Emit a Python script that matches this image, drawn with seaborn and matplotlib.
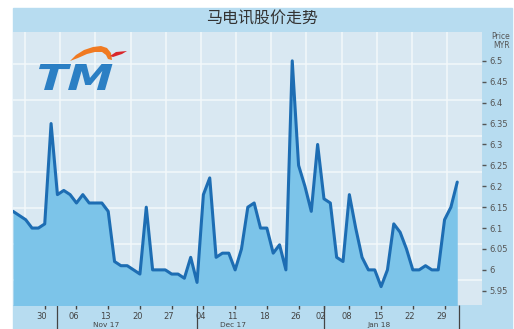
import matplotlib
matplotlib.use("Agg")
import matplotlib.pyplot as plt
import seaborn as sns
import numpy as np
import pandas as pd
from matplotlib.patches import Rectangle, Polygon, PathPatch
from matplotlib.textpath import TextPath
from matplotlib.font_manager import FontProperties
from matplotlib.transforms import Affine2D, ScaledTranslation

# trading days shown (market closed 25 Dec and 1 Jan)
dates = pd.bdate_range("2017-10-23", "2018-01-31")
dates = dates.drop(pd.to_datetime(["2017-12-25", "2018-01-01"]))

prices = [6.14, 6.13, 6.12, 6.10, 6.10, 6.11, 6.35, 6.18, 6.19, 6.18,
          6.16, 6.18, 6.16, 6.16, 6.16, 6.14, 6.02, 6.01, 6.01, 6.00,
          5.99, 6.15, 6.00, 6.00, 6.00, 5.99, 5.99, 5.98, 6.03, 5.97,
          6.18, 6.22, 6.03, 6.04, 6.04, 6.00, 6.05, 6.15, 6.16, 6.10,
          6.10, 6.04, 6.06, 6.00, 6.50, 6.25, 6.20, 6.14, 6.30, 6.17,
          6.16, 6.03, 6.02, 6.18, 6.10, 6.03, 6.00, 6.00, 5.96, 6.00,
          6.11, 6.09, 6.05, 6.00, 6.00, 6.01, 6.00, 6.00, 6.12, 6.15,
          6.21]

y_ticks = [5.95, 6.0, 6.05, 6.1, 6.15, 6.2, 6.25, 6.3, 6.35, 6.4, 6.45, 6.5]
title = "马电讯股价走势"

band_col = "#b7dcf0"
panel_col = "#d9e8f2"
fill_col = "#7cc4e9"
line_col = "#1d6db3"
text_col = "#555555"

W, H = 514, 329

df = pd.DataFrame({"date": dates, "price": prices})
df["i"] = np.arange(len(df))

sns.set_style("white")
plt.rcParams["font.family"] = ["DejaVu Sans"]

fig = plt.figure(figsize=(W / 100, H / 100), dpi=100)
fig.patch.set_facecolor("white")

# light blue frame behind everything
fig.patches.append(Rectangle((13 / W, 0), (512 - 13) / W, (H - 8) / H,
                             transform=fig.transFigure, color=band_col, zorder=-5))

ax = fig.add_axes([13 / W, 24 / H, 469 / W, 273 / H])
ax.set_zorder(1)
ax.set_facecolor(panel_col)

# decorative white grid
for gx in 0.0256 + 0.075 * np.arange(13):
    ax.plot([gx, gx], [0, 1], transform=ax.transAxes, color="#f3f8fb", lw=1.1, zorder=1)
for gy in 0.0916 + 0.132 * np.arange(7):
    ax.plot([0, 1], [gy, gy], transform=ax.transAxes, color="#f3f8fb", lw=1.1, zorder=1)

ax.fill_between(df["i"], 5.9, df["price"], color=fill_col, lw=0, zorder=2)
sns.lineplot(data=df, x="i", y="price", ax=ax, color=line_col, lw=2.2, zorder=3)

ax.set_xlim(0, 73.9)
ax.set_ylim(5.916, 6.569)
ax.set_xlabel("")
ax.set_ylabel("")
for s in ax.spines.values():
    s.set_visible(False)

# right hand price axis
ax.yaxis.tick_right()
ax.set_yticks(y_ticks)
ax.set_yticklabels(["%g" % v for v in y_ticks])
ax.tick_params(axis="y", right=True, length=3, width=1, color=text_col,
               labelsize=6, labelcolor=text_col, pad=2)

# weekly and monthly ticks
ax.xaxis.remove_overlapping_locs = False
wk = df.groupby(df["date"].dt.to_period("W"))["i"].min()
wk = wk[wk > 0]
mo = df.groupby(df["date"].dt.to_period("M"))["i"].min()
month_pos = list(mo[mo > 0]) + [len(df) - 0.7]
ax.set_xticks(month_pos)
ax.set_xticklabels([""] * len(month_pos))
ax.set_xticks(list(wk), minor=True)
ax.set_xticklabels([df["date"][k].strftime("%d") for k in wk], minor=True)
ax.tick_params(axis="x", which="major", bottom=True, length=17, width=0.9, color="#444444")
ax.tick_params(axis="x", which="minor", bottom=True, length=3, width=1, color="#444444",
               labelsize=6, labelcolor="#444444", pad=2)
for lab in ax.get_xticklabels(minor=True):
    lab.set_transform(lab.get_transform() + ScaledTranslation(-2 / 72, 0, fig.dpi_scale_trans))

# month names under the middle week of each month
for per, grp in df.groupby(df["date"].dt.to_period("M")):
    wks = [k for k in wk if k in set(grp["i"])]
    if len(wks) < 3:
        continue
    k = wks[(len(wks) - 1) // 2]
    ax.text(k - 0.4, -0.063, per.strftime("%b %y"), transform=ax.get_xaxis_transform(),
            ha="center", va="top", fontsize=5.3, color="#444444", clip_on=False)

# header
fig.text(0.51, 1 - 19 / H, title, ha="center", va="center", fontsize=11.5,
         color="#333333", family=["Noto Sans CJK SC", "DejaVu Sans"])
fig.text(510 / W, 1 - 32 / H, "Price\nMYR", ha="right", va="top", fontsize=5.5,
         color=text_col, linespacing=0.95)

# TM logo
fp = FontProperties(family="DejaVu Sans", weight="bold")
tp = TextPath((0, 0), "TM", size=1, prop=fp)
bb = tp.get_extents()
tr = (Affine2D().translate(-bb.x0, -bb.y0).scale(72 / bb.width, 26 / bb.height)
      .skew_deg(16, 0).translate(33, H - 90))
fig.add_artist(PathPatch(tp, transform=tr, color="#2b7fc4", lw=0, zorder=5))
swoosh = [(70, 61), (76, 55), (84, 50), (93, 47), (101, 46), (107, 48), (111, 53),
          (112, 60), (108, 59), (106, 55), (102, 52), (95, 52), (87, 54), (78, 58)]
fig.add_artist(Polygon([(px, H - py) for px, py in swoosh], closed=True,
                       transform=Affine2D(), color="#f07a22", lw=0, zorder=5))
flag = [(110, 56), (116, 52), (127, 51), (122, 54), (113, 57)]
fig.add_artist(Polygon([(px, H - py) for px, py in flag], closed=True,
                       transform=Affine2D(), color="#d9262a", lw=0, zorder=5))

fig.savefig("out.png", dpi=100)
